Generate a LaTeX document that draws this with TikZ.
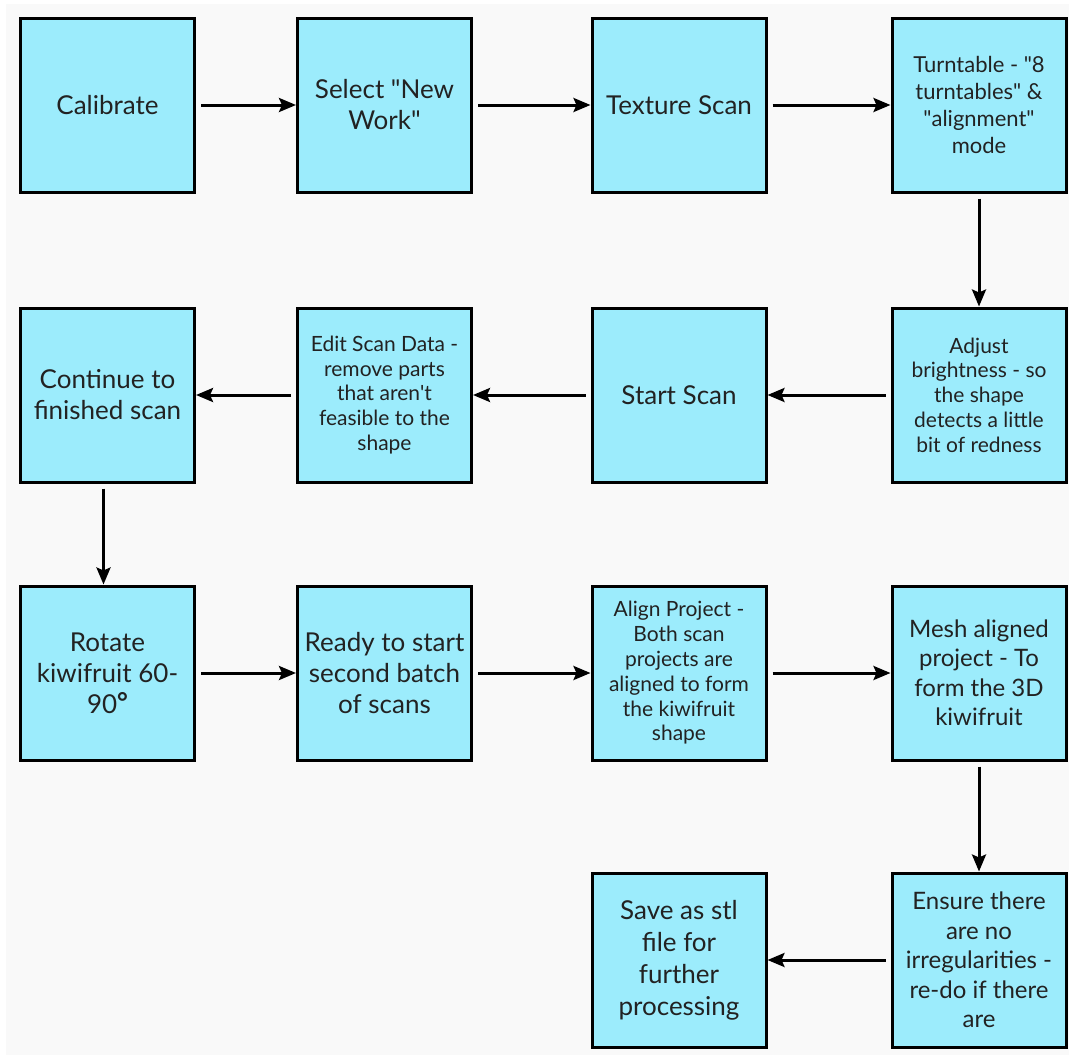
\documentclass[tikz,border=0pt]{standalone}
\usepackage{fontspec}
\setmainfont{Lato}
\usetikzlibrary{arrows.meta}
\definecolor{boxblue}{HTML}{9CECFC}
\definecolor{textgray}{HTML}{222222}
\definecolor{paper}{HTML}{F9F9F9}
\begin{document}
\begin{tikzpicture}
		[x=1pt,y=-1pt,
		box/.style={draw=black,line width=3pt,fill=boxblue,text=textgray,inner sep=0pt,
			minimum width=174pt,minimum height=174pt,align=center},
		big/.style={font=\fontsize{26}{31}\selectfont},
		mid/.style={font=\fontsize{24}{29.5}\selectfont},
		small/.style={font=\fontsize{21}{24.8}\selectfont},
		turn/.style={font=\fontsize{22}{27}\selectfont},
		flow/.style={line width=3pt,-{Stealth[length=17pt,width=14pt,inset=3pt]},shorten <=5pt}]
		% page and grey background
		\useasboundingbox (0,0) rectangle (1069,1055);
		\fill[paper] (6,4) rectangle (1069,1055);

		% first row
		\node [box,big] (cal) at (107.5,105) {Calibrate};
		\node [box,big] (new) at (384.5,105) {Select \textquotedbl New\\Work\textquotedbl};
		\node [box,big] (tex) at (679,105) {Texture Scan};
		\node [box,turn] (turn) at (979,105) {Turntable - \textquotedbl 8\\turntables\textquotedbl{} \&\\\textquotedbl alignment\textquotedbl\\mode};

		% second row
		\node [box,small] (adj) at (979,395) {Adjust\\brightness - so\\the shape\\detects a little\\bit of redness};
		\node [box,big] (start) at (679,395) {Start Scan};
		\node [box,small] (edit) at (384.5,395) {Edit Scan Data -\\remove parts\\that aren\textquotesingle t\\feasible to the\\shape};
		\node [box,big] (cont) at (107.5,395) {Continue to\\finished scan};

		% third row
		\node [box,big] (rot) at (107.5,673) {Rotate\\kiwifruit 60-\\90{\bfseries\raisebox{2pt}{°}}};
		\node [box,big] (ready) at (384.5,673) {Ready to start\\second batch\\of scans};
		\node [box,small] (align) at (679,673) {Align Project -\\Both scan\\projects are\\aligned to form\\the kiwifruit\\shape};
		\node [box,mid] (mesh) at (979,673) {Mesh aligned\\project - To\\form the 3D\\kiwifruit};

		% last row
		\node [box,mid] (ens) at (979,960) {Ensure there\\are no\\irregularities -\\re-do if there\\are};
		\node [box,font=\fontsize{26}{32}\selectfont] (save) at (679,960) {Save as stl\\file for\\further\\processing};

		% the flow
		\draw [flow] (cal) -- (new);
		\draw [flow] (new) -- (tex);
		\draw [flow] (tex) -- (turn);
		\draw [flow] (turn) -- (adj);
		\draw [flow] (adj) -- (start);
		\draw [flow] (start) -- (edit);
		\draw [flow] (edit) -- (cont);
		\draw [flow] ([xshift=-4pt]cont.south) -- ([xshift=-4pt]rot.north);
		\draw [flow] (rot) -- (ready);
		\draw [flow] (ready) -- (align);
		\draw [flow] (align) -- (mesh);
		\draw [flow] (mesh) -- (ens);
		\draw [flow] (ens) -- (save);
	\end{tikzpicture}
\end{document}
